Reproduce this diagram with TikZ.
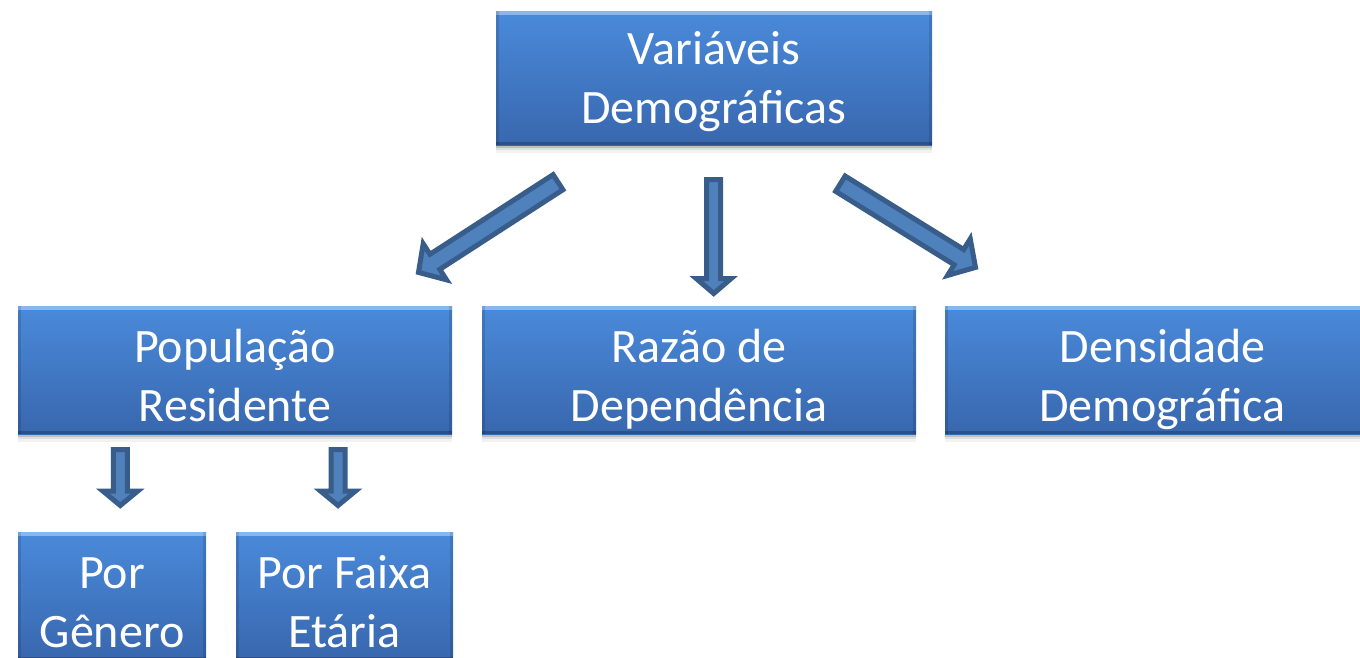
\documentclass[tikz,border=0pt]{standalone}
\usepackage{fontspec}
\setmainfont{Carlito}
\usetikzlibrary{calc,shadows}
\definecolor{boxtop}{HTML}{4A8ADA}
\definecolor{boxbot}{HTML}{3867AE}
\definecolor{hilite}{HTML}{86B8F0}
\definecolor{arrfill}{HTML}{4F81BD}
\definecolor{arrline}{HTML}{385D8A}
\tikzset{
  box/.style={rectangle, inner sep=0pt, draw=none,
    top color=boxtop, bottom color=boxbot,
    drop shadow={shadow xshift=0pt, shadow yshift=-8pt, opacity=0.05, fill=black},
    drop shadow={shadow xshift=0pt, shadow yshift=-5pt, opacity=0.08, fill=black},
    drop shadow={shadow xshift=0pt, shadow yshift=-2.5pt, opacity=0.14, fill=black},
    path picture={
      \fill[hilite] (path picture bounding box.north west) rectangle ([yshift=-4pt]path picture bounding box.north east);
      \fill[black,opacity=.22] (path picture bounding box.south west) rectangle ([yshift=3pt]path picture bounding box.south east);
      \fill[black,opacity=.12] (path picture bounding box.south west) rectangle ([xshift=3pt]path picture bounding box.north west);
      \fill[black,opacity=.12] (path picture bounding box.south east) rectangle ([xshift=-3pt]path picture bounding box.north east);
    }},
  lbl/.style={inner sep=0pt, text=white, align=center, font=\fontsize{48}{59}\selectfont},
  fatarrow/.style={draw=arrline, fill=arrfill, line width=5pt, line join=miter},
}
\newcommand\blockarr[5]{%
  \coordinate (ba) at ($(#2)!#5!(#1)$);
  \draw[fatarrow] ($(#1)!#3!90:(#2)$) -- ($(ba)!#3!90:(#2)$) -- ($(ba)!#4!90:(#2)$) -- (#2)
    -- ($(ba)!#4!-90:(#2)$) -- ($(ba)!#3!-90:(#2)$) -- ($(#1)!#3!-90:(#2)$) -- cycle;
}
\begin{document}
\begin{tikzpicture}[x=1pt,y=-1pt]
\useasboundingbox (0,0) rectangle (1360,658);
\clip (0,0) rectangle (1360,658);
\fill[white] (0,0) rectangle (1360,658);

% boxes
\node[box, minimum width=436, minimum height=134] (vd) at (714,78.5) {};
\node[box, minimum width=434, minimum height=128] (pr) at (235,370) {};
\node[box, minimum width=434, minimum height=128] (rd) at (699,370) {};
\node[box, minimum width=435, minimum height=128] (dd) at (1162.5,370) {};
\node[box, minimum width=188, minimum height=128] (pg) at (112,596) {};
\node[box, minimum width=217, minimum height=128] (pf) at (344.5,596) {};

% texts
\node[lbl] (vdt) at ($(vd.center)+(0,16)$) {\smash{Variáveis}\\\smash{Demográficas}};
\node[lbl] (prt) at ($(pr.center)+(0,22)$) {\smash{População}\\\smash{Residente}};
\node[lbl] (rdt) at ($(rd.center)+(0,22)$) {\smash{Razão de}\\\smash{Dependência}};
\node[lbl] (ddt) at ($(dd.center)+(0,22)$) {\smash{Densidade}\\\smash{Demográfica}};
\node[lbl] (pgt) at ($(pg.center)+(0,22)$) {\smash{Por}\\\smash{Gênero}};
\node[lbl] (pft) at ($(pf.center)+(0,22)$) {\smash{Por Faixa}\\\smash{Etária}};

% arrow end points
\coordinate (a1t) at (558,182.2);
\coordinate (a1h) at (418.5,272.4);
\coordinate (a2t) at (713.7,179.5);
\coordinate (a2h) at (713.7,293.5);
\coordinate (a3t) at (840.4,183.7);
\coordinate (a3h) at (975.5,267.4);
\coordinate (a4t) at (120.3,449.5);
\coordinate (a4h) at (120.3,505.5);
\coordinate (a5t) at (338,449.5);
\coordinate (a5h) at (338,505.5);

\blockarr{a1t}{a1h}{9pt}{21.5pt}{19.5pt}
\blockarr{a2t}{a2h}{7pt}{17.5pt}{15pt}
\blockarr{a3t}{a3h}{9pt}{21.5pt}{19.5pt}
\blockarr{a4t}{a4h}{7pt}{17.5pt}{14.5pt}
\blockarr{a5t}{a5h}{7pt}{17.5pt}{14.5pt}
\end{tikzpicture}
\end{document}
